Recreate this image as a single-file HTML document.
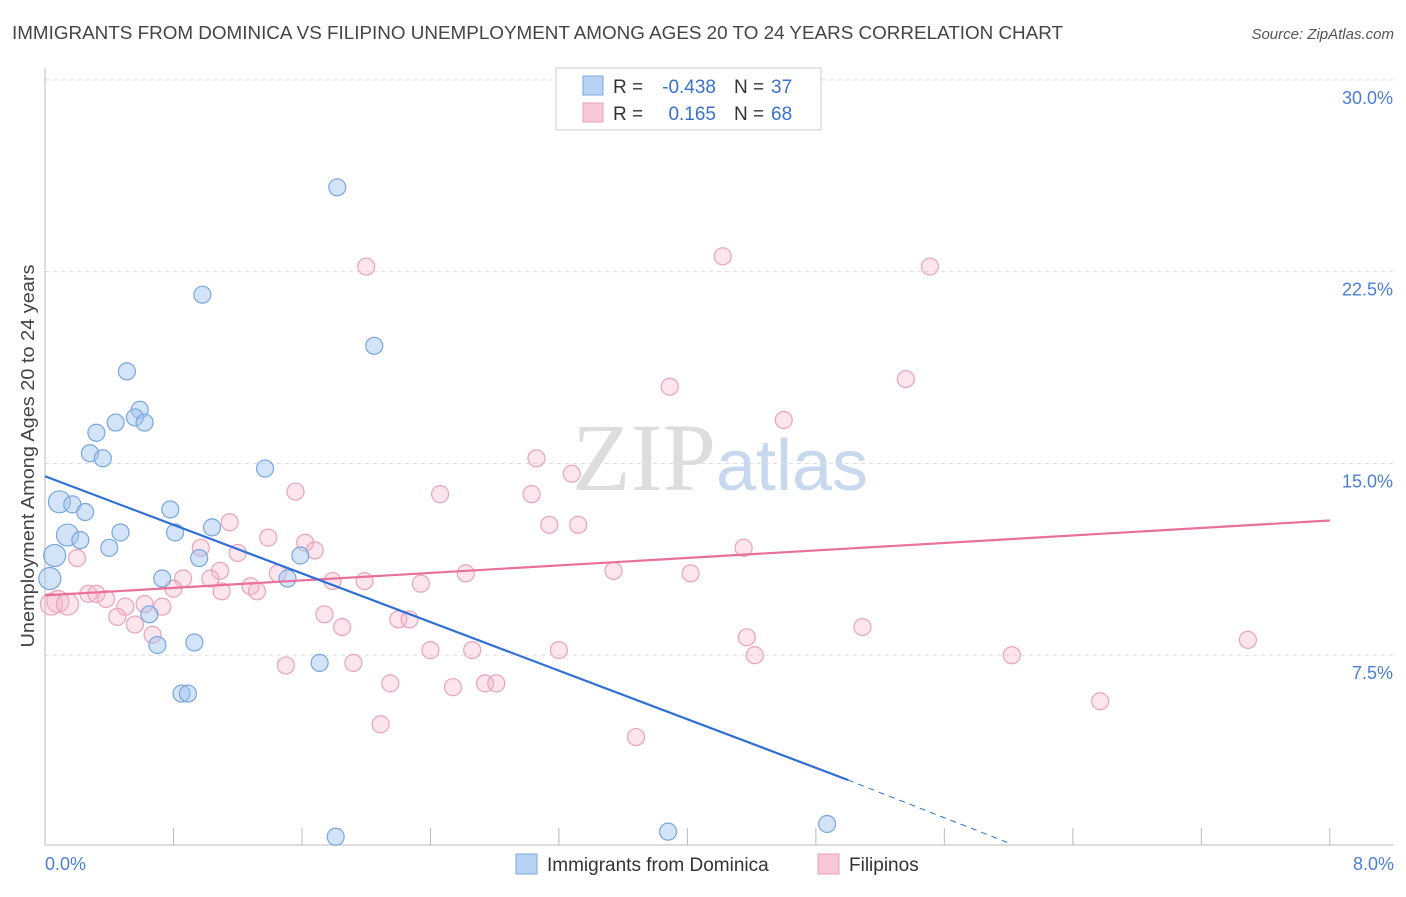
<!DOCTYPE html>
<html><head><meta charset="utf-8"><style>
body{margin:0;background:#fff;font-family:"Liberation Sans",sans-serif;}
</style></head><body>
<svg id="chart" width="1406" height="892" xmlns="http://www.w3.org/2000/svg" font-family="Liberation Sans, sans-serif">
<text x="12" y="39" font-size="18.5" fill="#444" textLength="1051" lengthAdjust="spacingAndGlyphs">IMMIGRANTS FROM DOMINICA VS FILIPINO UNEMPLOYMENT AMONG AGES 20 TO 24 YEARS CORRELATION CHART</text>
<text x="1394" y="39" font-size="15" fill="#555" text-anchor="end" font-style="italic">Source: ZipAtlas.com</text>
<text x="720" y="490" font-size="96" text-anchor="middle" fill="#ddd" font-family="Liberation Serif, serif">ZIP<tspan fill="#c8d8ee" font-family="Liberation Sans, sans-serif" font-size="72">atlas</tspan></text>
<g id="grid"></g><g id="axes"></g><g id="marks"></g>
<text transform="translate(34,456) rotate(-90)" font-size="18" fill="#444" text-anchor="middle" textLength="383" lengthAdjust="spacingAndGlyphs">Unemployment Among Ages 20 to 24 years</text>
<text x="45" y="870" font-size="18" fill="#4a7fd4">0.0%</text>
<text x="1394" y="870" font-size="18" fill="#4a7fd4" text-anchor="end">8.0%</text>
<g>
<rect x="556" y="68" width="265" height="62" fill="#fff" stroke="#ccc"/>
<rect x="583" y="76" width="20" height="19" fill="#b8d2f4" stroke="#7aa8e0"/>
<rect x="583" y="103" width="20" height="19" fill="#f9c8d6" stroke="#e8a0b8"/>
<text x="613" y="93" font-size="19" fill="#333">R =</text>
<text x="716" y="93" font-size="19" fill="#3a70d0" text-anchor="end">-0.438</text>
<text x="734" y="93" font-size="19" fill="#333">N =</text>
<text x="771" y="93" font-size="19" fill="#3a70d0">37</text>
<text x="613" y="120" font-size="19" fill="#333">R =</text>
<text x="716" y="120" font-size="19" fill="#3a70d0" text-anchor="end">0.165</text>
<text x="734" y="120" font-size="19" fill="#333">N =</text>
<text x="771" y="120" font-size="19" fill="#3a70d0">68</text>
</g>
<g>
<rect x="516" y="854" width="21" height="20" fill="#b8d2f4" stroke="#7aa8e0"/>
<text x="547" y="871" font-size="19" fill="#333">Immigrants from Dominica</text>
<rect x="818" y="854" width="21" height="20" fill="#f9c8d6" stroke="#e8a0b8"/>
<text x="849" y="871" font-size="19" fill="#333">Filipinos</text>
</g>
</svg>
<script>
const yTicks=[7.5,15,22.5,30];
const yTickLabels=["7.5%","15.0%","22.5%","30.0%"];
const xTicks=[0,0.8,1.6,2.4,3.2,4.0,4.8,5.6,6.4,7.2,8.0];
const blueX=[1.82,0.98,2.05,0.51,0.59,0.44,0.56,0.62,0.32,0.28,0.36,1.37,0.09,0.17,0.25,0.78,0.14,0.22,0.47,0.81,1.04,0.40,0.06,0.96,1.59,0.03,0.73,1.51,0.65,0.70,0.93,1.71,0.85,0.89,1.81,3.88,4.87];
const blueY=[25.8,21.6,19.6,18.6,17.1,16.6,16.8,16.6,16.2,15.4,15.2,14.8,13.5,13.4,13.1,13.2,12.2,12.0,12.3,12.3,12.5,11.7,11.4,11.3,11.4,10.5,10.5,10.5,9.1,7.9,8.0,7.2,6.0,6.0,0.4,0.6,0.9];
const pinkX=[2.0,4.22,5.51,3.89,5.36,4.6,3.06,3.28,1.56,2.46,3.03,1.15,3.14,3.32,1.39,0.97,1.20,1.62,1.68,4.35,0.20,1.09,1.45,2.62,3.54,4.02,0.86,1.03,1.79,1.99,2.34,0.80,1.10,1.28,1.32,0.27,0.32,0.38,0.08,0.04,0.14,0.50,0.62,0.73,1.74,0.45,0.56,2.2,2.27,1.85,0.67,5.09,4.37,7.49,2.40,2.66,3.2,4.42,6.02,1.5,1.92,2.15,2.54,2.74,2.81,6.57,2.09,3.68];
const pinkY=[22.7,23.1,22.7,18.0,18.3,16.7,15.2,14.6,13.9,13.8,13.8,12.7,12.6,12.6,12.1,11.7,11.5,11.9,11.6,11.7,11.3,10.8,10.7,10.7,10.8,10.7,10.5,10.5,10.4,10.4,10.3,10.1,10.0,10.2,10.0,9.9,9.9,9.7,9.6,9.5,9.5,9.4,9.5,9.4,9.1,9.0,8.7,8.9,8.9,8.6,8.3,8.6,8.2,8.1,7.7,7.7,7.7,7.5,7.5,7.1,7.2,6.4,6.25,6.4,6.4,5.7,4.8,4.3];
const blueTrend=[[0,14.5],[5.0,2.62]];
const blueTrendDash=[[5.0,2.62],[6.0,0.16]];
const pinkTrend=[[0,9.84],[8.0,12.77]];
const X=v=>45+v*160.6, Y=v=>847-v*25.57;
const NS="http://www.w3.org/2000/svg";
function mk(p,t,a){const e=document.createElementNS(NS,t);for(const k in a)e.setAttribute(k,a[k]);p.appendChild(e);return e;}
const grid=document.getElementById('grid'),axes=document.getElementById('axes'),marks=document.getElementById('marks');
yTicks.forEach((v,i)=>{
 const l=mk(grid,'line',{x1:45,x2:1394,y1:Y(v),y2:Y(v),stroke:'#ddd','stroke-dasharray':'4,4'});
 
 
 const t=mk(grid,'text',{x:1393,y:Y(v)+24,'font-size':18,fill:'#4a7fd4','text-anchor':'end'});
 t.textContent=yTickLabels[i];
 
 
});
const xa=mk(axes,'line',{x1:45,x2:1394,y1:845,y2:845,stroke:'#bbb'});


const ya=mk(axes,'line',{x1:45,x2:45,y1:68,y2:845,stroke:'#bbb'});


xTicks.forEach(v=>{
 const t=mk(axes,'line',{x1:X(v),x2:X(v),y1:828,y2:845,stroke:'#bbb'});
 
 
});
function dots(xs,ys,fill,stroke,name){xs.forEach((x,i)=>{
 const r=(x<0.15)?11:8.5;
 const c=mk(marks,'circle',{cx:X(x),cy:Y(ys[i]),r:r,fill:fill,stroke:stroke,'stroke-width':1.2});
 
 
});}
dots(pinkX,pinkY,'rgba(245,180,200,0.35)','#e9a3ba','filipino-point');
dots(blueX,blueY,'rgba(160,195,240,0.45)','#78a6e0','dominica-point');
function line(p,st,dash,name){
 const l=mk(marks,'line',{x1:X(p[0][0]),y1:Y(p[0][1]),x2:X(p[1][0]),y2:Y(p[1][1]),stroke:st,'stroke-width':dash?1:2.2});
 if(dash)l.setAttribute('stroke-dasharray','6,5');
 
 
}
line(pinkTrend,'#e8709a',false,'filipino-trend-line');
line(blueTrend,'#2f6fd6',false,'dominica-trend-line');
line(blueTrendDash,'#2f6fd6',true,'dominica-trend-extension');
</script>
</body></html>
